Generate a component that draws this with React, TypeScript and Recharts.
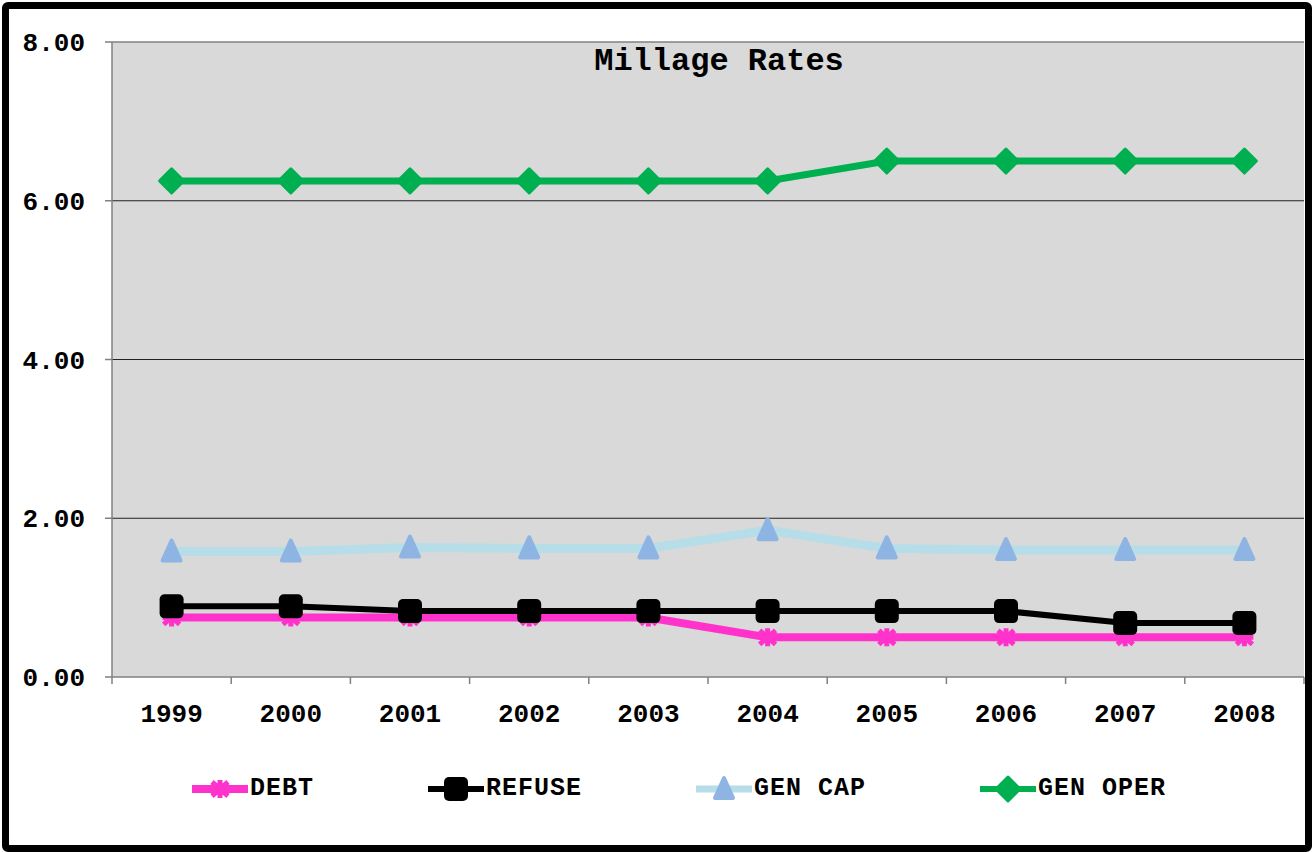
import React from 'react';
import { LineChart, Line, XAxis, YAxis, CartesianGrid, ReferenceLine, Legend } from 'recharts';

const years = ['1999', '2000', '2001', '2002', '2003', '2004', '2005', '2006', '2007', '2008'];
const debt = [0.75, 0.75, 0.75, 0.75, 0.75, 0.5, 0.5, 0.5, 0.5, 0.5];
const refuse = [0.89, 0.89, 0.83, 0.83, 0.83, 0.83, 0.83, 0.83, 0.68, 0.68];
const genCap = [1.58, 1.58, 1.63, 1.62, 1.62, 1.85, 1.62, 1.6, 1.6, 1.6];
const genOper = [6.25, 6.25, 6.25, 6.25, 6.25, 6.25, 6.5, 6.5, 6.5, 6.5];
const yTicks = [0, 2, 4, 6, 8];
const boundaryTicks = [0, 1, 2, 3, 4, 5, 6, 7, 8, 9, 10];
const centerTicks = years.map((_, i) => i + 0.5);
const title = 'Millage Rates';

const data = years.map((year, i) => ({
  x: i + 0.5,
  year,
  debt: debt[i],
  refuse: refuse[i],
  genCap: genCap[i],
  genOper: genOper[i],
}));

const FONT = '"Liberation Mono", "Courier New", monospace';
const PINK = '#FF33CC';
const BLACK = '#000000';
const CAP_LINE = '#B7DEE8';
const CAP_MARK = '#8EB4E3';
const GREEN = '#00B050';
const AXIS_GRAY = '#808080';

const debtShape = (cx: number, cy: number, key?: any) => (
  <g key={key}>
    <path
      d={`M${cx - 8},${cy - 7} L${cx + 8},${cy + 7} M${cx - 8},${cy + 7} L${cx + 8},${cy - 7} M${cx - 9},${cy} L${cx + 9},${cy} M${cx},${cy - 9} L${cx},${cy + 9}`}
      stroke={PINK}
      strokeWidth={5}
      fill="none"
    />
  </g>
);
const refuseShape = (cx: number, cy: number, key?: any) => (
  <rect key={key} x={cx - 12} y={cy - 12} width={24} height={24} rx={5} ry={5} fill={BLACK} />
);
const capShape = (cx: number, cy: number, key?: any) => (
  <path
    key={key}
    d={`M${cx},${cy - 11} L${cx + 9},${cy + 9} L${cx - 9},${cy + 9} Z`}
    fill={CAP_MARK}
    stroke={CAP_MARK}
    strokeWidth={4}
    strokeLinejoin="round"
  />
);
const operShape = (cx: number, cy: number, key?: any) => (
  <path
    key={key}
    d={`M${cx},${cy - 12} L${cx + 12},${cy} L${cx},${cy + 12} L${cx - 12},${cy} Z`}
    fill={GREEN}
    stroke={GREEN}
    strokeWidth={3}
    strokeLinejoin="round"
  />
);

const makeDot = (fn: (cx: number, cy: number, key?: any) => React.ReactElement) => (props: any) => {
  const { cx, cy, index } = props;
  if (cx == null || cy == null) return <g key={`d-${index}`} />;
  return fn(cx, cy, `d-${index}`);
};

const legendItems = [
  { label: 'DEBT', color: PINK, width: 8, shape: debtShape },
  { label: 'REFUSE', color: BLACK, width: 6, shape: refuseShape },
  { label: 'GEN CAP', color: CAP_LINE, width: 7, shape: capShape },
  { label: 'GEN OPER', color: GREEN, width: 6, shape: operShape },
];

const LegendContent = () => (
  <div style={{ display: 'flex', alignItems: 'center', gap: 114 }}>
    {legendItems.map((it) => (
      <div key={it.label} style={{ display: 'flex', alignItems: 'center' }}>
        <svg width={56} height={28} style={{ display: 'block' }}>
          <line x1={0} y1={14} x2={56} y2={14} stroke={it.color} strokeWidth={it.width} strokeLinecap="round" />
          {it.shape(28, 14)}
        </svg>
        <span
          style={{
            marginLeft: 2,
            fontFamily: FONT,
            fontWeight: 'bold',
            fontSize: 25,
            letterSpacing: 1,
            color: '#000',
            whiteSpace: 'pre',
            lineHeight: '28px',
          }}
        >
          {it.label}
        </span>
      </div>
    ))}
  </div>
);

export default function App() {
  return (
    <div
      style={{
        position: 'absolute',
        left: 2,
        top: 2,
        width: 1310,
        height: 850,
        border: '7px solid #000',
        borderRadius: 6,
        boxSizing: 'border-box',
        background: '#fff',
        overflow: 'hidden',
      }}
    >
      <div style={{ position: 'relative', width: 1296, height: 836 }}>
        <LineChart
          width={1296}
          height={836}
          data={data}
          margin={{ top: 33, right: 1, left: 0, bottom: 98 }}
        >
          <CartesianGrid
            fill="#D9D9D9"
            vertical={false}
            horizontalValues={[2, 4, 6]}
            stroke="#222"
            strokeWidth={1}
          />
          <ReferenceLine y={8} stroke={AXIS_GRAY} strokeWidth={1.5} ifOverflow="extendDomain" />
          <XAxis
            xAxisId="b"
            type="number"
            dataKey="x"
            domain={[0, 10]}
            ticks={boundaryTicks}
            tickFormatter={() => ''}
            height={10}
            tickSize={7}
            stroke={AXIS_GRAY}
            axisLine={{ stroke: AXIS_GRAY, strokeWidth: 1.5 }}
            tickLine={{ stroke: AXIS_GRAY, strokeWidth: 1.5 }}
            allowDataOverflow
          />
          <XAxis
            xAxisId="c"
            type="number"
            dataKey="x"
            domain={[0, 10]}
            ticks={centerTicks}
            tickFormatter={(v: number) => years[Math.round(v - 0.5)] ?? ''}
            height={60}
            axisLine={false}
            tickLine={false}
            tickSize={0}
            tickMargin={17}
            interval={0}
            tick={{ fill: '#000', fontFamily: FONT, fontWeight: 'bold', fontSize: 26 }}
            allowDataOverflow
          />
          <YAxis
            type="number"
            domain={[0, 8]}
            ticks={yTicks}
            tickFormatter={(v: number) => v.toFixed(2)}
            width={103}
            tickSize={7}
            tickMargin={20}
            interval={0}
            axisLine={{ stroke: AXIS_GRAY, strokeWidth: 1.5 }}
            tickLine={{ stroke: AXIS_GRAY, strokeWidth: 1.5 }}
            tick={{ fill: '#000', fontFamily: FONT, fontWeight: 'bold', fontSize: 26 }}
            allowDataOverflow
          />
          <Legend
            layout="horizontal"
            verticalAlign="middle"
            align="center"
            content={<LegendContent />}
            wrapperStyle={{ left: 183, top: 766, width: 1100, height: 28 }}
          />
          <Line
            xAxisId="b"
            type="linear"
            dataKey="debt"
            name="DEBT"
            stroke={PINK}
            strokeWidth={8}
            dot={makeDot(debtShape)}
            activeDot={false}
            isAnimationActive={false}
          />
          <Line
            xAxisId="b"
            type="linear"
            dataKey="refuse"
            name="REFUSE"
            stroke={BLACK}
            strokeWidth={6}
            dot={makeDot(refuseShape)}
            activeDot={false}
            isAnimationActive={false}
          />
          <Line
            xAxisId="b"
            type="linear"
            dataKey="genCap"
            name="GEN CAP"
            stroke={CAP_LINE}
            strokeWidth={9}
            dot={makeDot(capShape)}
            activeDot={false}
            isAnimationActive={false}
          />
          <Line
            xAxisId="b"
            type="linear"
            dataKey="genOper"
            name="GEN OPER"
            stroke={GREEN}
            strokeWidth={7}
            dot={makeDot(operShape)}
            activeDot={false}
            isAnimationActive={false}
          />
        </LineChart>
        <div
          style={{
            position: 'absolute',
            left: 460,
            top: 37,
            width: 500,
            textAlign: 'center',
            fontFamily: FONT,
            fontWeight: 'bold',
            fontSize: 32,
            lineHeight: '32px',
            color: '#000',
            whiteSpace: 'pre',
            pointerEvents: 'none',
          }}
        >
          {title}
        </div>
      </div>
    </div>
  );
}
